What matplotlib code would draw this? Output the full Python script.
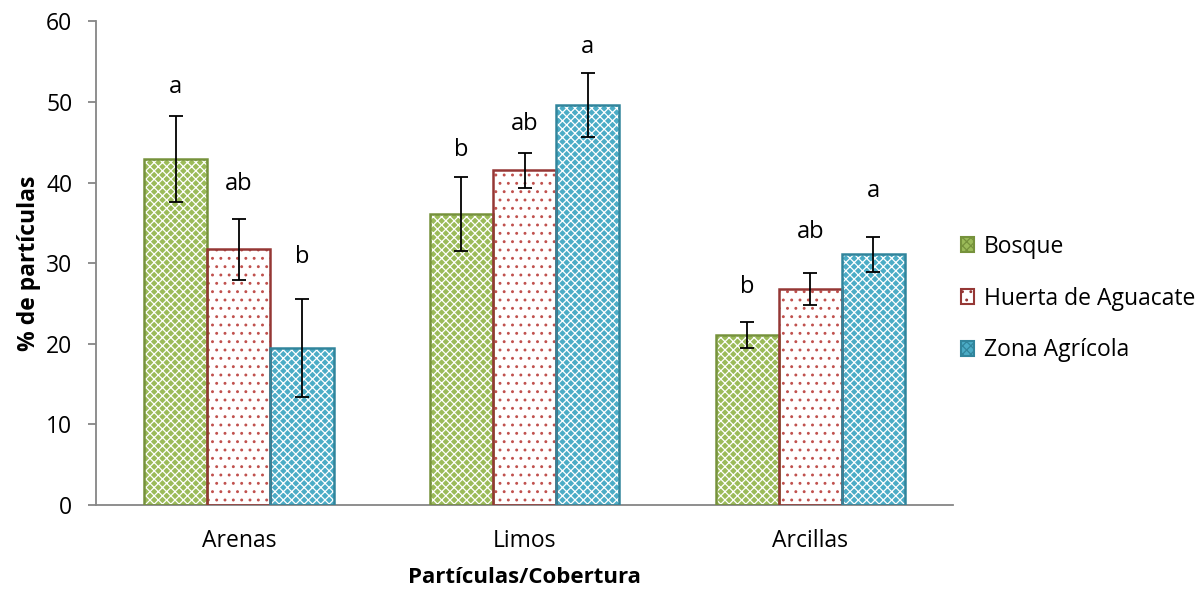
import matplotlib.pyplot as plt
import numpy as np

categorias = ["Arenas", "Limos", "Arcillas"]
series = ["Bosque", "Huerta de Aguacate", "Zona Agrícola"]

bosque = [42.9, 36.1, 21.1]
huerta = [31.7, 41.5, 26.8]
zona = [19.5, 49.6, 31.1]

err_bosque = [5.3, 4.6, 1.6]
err_huerta = [3.8, 2.2, 2.0]
err_zona = [6.1, 4.0, 2.2]

letras_bosque = ["a", "b", "b"]
letras_huerta = ["ab", "ab", "ab"]
letras_zona = ["b", "a", "a"]
# letter heights (data units) as placed in the original chart
y_letras_bosque = [51.8, 44.0, 27.0]
y_letras_huerta = [39.8, 47.3, 33.8]
y_letras_zona = [30.7, 56.8, 38.9]

plt.rcParams['font.family'] = ['Open Sans', 'DejaVu Sans']
plt.rcParams['hatch.linewidth'] = 0.9

fig = plt.figure(figsize=(12.02, 5.9), dpi=100)
ax = fig.add_axes([0.0799, 0.144, 0.713, 0.82])

x = np.arange(len(categorias))
w = 0.221

estilos = [
	dict(fill='#9BBB59', hatch='xxxx', hcol='white', edge='#76923C'),
	dict(fill='white', hatch='..', hcol='#C0504D', edge='#953735'),
	dict(fill='#4BACC6', hatch='xxxx', hcol='white', edge='#31859C'),
]
valores = [bosque, huerta, zona]
errores = [err_bosque, err_huerta, err_zona]
letras = [letras_bosque, letras_huerta, letras_zona]
y_letras = [y_letras_bosque, y_letras_huerta, y_letras_zona]

handles = []
for i in range(3):
	st = estilos[i]
	pos = x + (i - 1) * w
	ax.bar(pos, valores[i], w, color=st['fill'], hatch=st['hatch'], edgecolor=st['hcol'], linewidth=0, zorder=2)
	ax.bar(pos, valores[i], w, fill=False, edgecolor=st['edge'], linewidth=1.8, zorder=3)
	ax.errorbar(pos, valores[i], yerr=errores[i], fmt='none', ecolor='black', elinewidth=1.3, capsize=5, capthick=1.3, zorder=4)
	for j in range(3):
		ax.text(pos[j], y_letras[i][j], letras[i][j], ha='center', va='center', fontsize=17)
	h = plt.Rectangle((0, 0), 1, 1, facecolor=st['fill'], hatch=st['hatch'], edgecolor=st['edge'], linewidth=1.5)
	handles.append(h)

ax.set_xlim(-0.5, 2.5)
ax.set_ylim(0, 60)
ax.set_yticks(range(0, 61, 10))
ax.set_xticks(x)
ax.set_xticklabels(categorias)

for s in ['top', 'right']:
	ax.spines[s].set_visible(False)
for s in ['left', 'bottom']:
	ax.spines[s].set_color('#868686')
	ax.spines[s].set_linewidth(1.3)

ax.tick_params(axis='y', colors='#868686', labelcolor='black', labelsize=16.5, length=6, width=1.3, pad=11)
ax.tick_params(axis='x', length=0, labelsize=16.5, pad=17)

ax.set_ylabel('% de partículas', fontsize=16.5, fontweight='bold', labelpad=4)
ax.set_xlabel('Partículas/Cobertura', fontsize=16, fontweight='bold', labelpad=10)

leg = fig.legend(handles, series, loc='center left', bbox_to_anchor=(0.782, 0.494), frameon=False,
	fontsize=16.5, handlelength=0.6, handleheight=0.6, handletextpad=0.4, labelspacing=1.22)

fig.savefig('out.png', dpi=100)
